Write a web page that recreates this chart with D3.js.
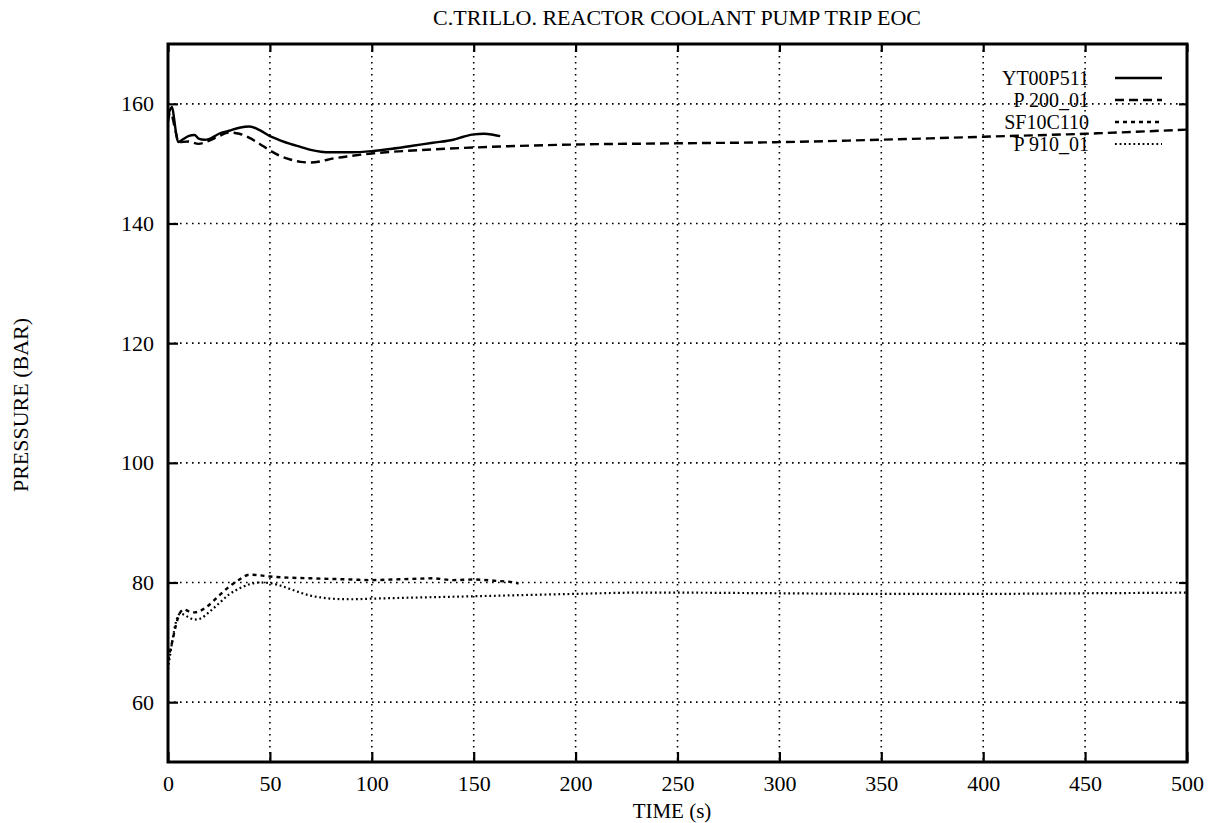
<!DOCTYPE html>
<html>
<head>
<meta charset="utf-8">
<script src="https://cdn.jsdelivr.net/npm/d3@7"></script>
<style>
  body { margin: 0; background: #fff; }
  svg text { font-family: "Liberation Serif", "DejaVu Serif", serif; fill: #000; }
</style>
</head>
<body>
<svg width="1218" height="823"></svg>
<script>
// time (s) and pressure (bar)
var ytTime = [0, 1, 2, 3, 4, 5, 7, 10, 13, 15, 18, 20, 25, 30, 35, 40, 45, 50, 55, 60, 65, 70, 75, 80, 90, 100, 110, 120, 130, 140, 145, 150, 155, 160, 163];
var ytVal  = [158, 159, 159.5, 157.5, 155, 153.6, 154, 154.6, 154.8, 154.2, 154, 154.1, 155, 155.5, 156, 156.2, 155.6, 154.6, 153.9, 153.3, 152.8, 152.3, 152, 151.9, 151.9, 152.1, 152.5, 153, 153.5, 154, 154.5, 154.9, 155, 154.8, 154.6];

var p200Time = [0, 1, 2, 3, 4, 5, 10, 15, 20, 25, 30, 35, 40, 45, 50, 55, 60, 65, 70, 75, 80, 90, 100, 120, 150, 200, 250, 300, 350, 400, 450, 500];
var p200Val  = [157, 158.5, 158, 156.5, 155, 153.6, 153.7, 153.3, 153.8, 154.6, 155.2, 155, 154.3, 153.3, 152.2, 151.3, 150.7, 150.3, 150.2, 150.4, 150.8, 151.3, 151.7, 152.2, 152.7, 153.2, 153.4, 153.6, 154, 154.5, 155, 155.7];

var sfTime = [0, 2, 4, 6, 8, 10, 13, 16, 20, 25, 30, 35, 40, 45, 50, 60, 70, 80, 90, 100, 110, 120, 130, 140, 150, 160, 170, 172];
var sfVal  = [67, 70, 73, 75, 75.5, 75.2, 75, 75.3, 76.2, 77.8, 79.3, 80.5, 81.3, 81.2, 81, 80.8, 80.7, 80.6, 80.5, 80.4, 80.5, 80.6, 80.7, 80.4, 80.5, 80.3, 80, 79.8];

var p910Time = [0, 2, 4, 6, 8, 10, 13, 16, 20, 25, 30, 35, 40, 45, 50, 55, 60, 65, 70, 75, 80, 90, 100, 150, 200, 230, 250, 300, 350, 400, 450, 500];
var p910Val  = [65.5, 70, 73.5, 74.8, 74.6, 74.2, 73.8, 74, 75, 76.5, 78, 79, 79.7, 80, 79.9, 79.5, 78.9, 78.3, 77.8, 77.5, 77.3, 77.2, 77.3, 77.7, 78.1, 78.3, 78.3, 78.2, 78.1, 78.1, 78.2, 78.3];

var legendNames = ["YT00P511", "P 200_01", "SF10C110", "P 910_01"];
var xTicks = [0, 50, 100, 150, 200, 250, 300, 350, 400, 450, 500];
var yTicks = [60, 80, 100, 120, 140, 160];

var svg = d3.select("svg");

var mLeft = 168, mRight = 1187, mTop = 44, mBottom = 762;

var x = d3.scaleLinear().domain([0, 500]).range([mLeft, mRight]);
var y = d3.scaleLinear().domain([50, 170]).range([mBottom, mTop]);

// grid
svg.append("g").selectAll("line")
    .data(xTicks.slice(1, -1))
    .enter().append("line")
    .attr("x1", d => x(d)).attr("x2", d => x(d))
    .attr("y1", mTop).attr("y2", mBottom)
    .attr("stroke", "#000")
    .attr("stroke-width", 1.6)
    .attr("stroke-dasharray", "1.6,4.4");

svg.append("g").selectAll("line")
    .data(yTicks)
    .enter().append("line")
    .attr("x1", mLeft).attr("x2", mRight)
    .attr("y1", d => y(d)).attr("y2", d => y(d))
    .attr("stroke", "#000")
    .attr("stroke-width", 1.6)
    .attr("stroke-dasharray", "1.6,4.4");

// axes with inward ticks
var xAxisB = d3.axisBottom(x).tickValues(xTicks).tickSize(-10).tickPadding(13).tickFormat(d3.format("d"));
var xAxisT = d3.axisTop(x).tickValues(xTicks).tickSize(-8).tickFormat("");
var yAxisL = d3.axisLeft(y).tickValues(yTicks).tickSize(-10).tickPadding(14).tickFormat(d3.format("d"));
var yAxisR = d3.axisRight(y).tickValues(yTicks).tickSize(-8).tickFormat("");

function style(g) {
    g.select(".domain").remove();
    g.selectAll(".tick line").attr("stroke", "#000").attr("stroke-width", 2.2);
    g.selectAll("text").attr("font-size", 22).attr("font-family", "Liberation Serif, serif");
}

svg.append("g").attr("transform", "translate(0," + mBottom + ")").call(xAxisB).call(style);
svg.append("g").attr("transform", "translate(0," + mTop + ")").call(xAxisT).call(style);
svg.append("g").attr("transform", "translate(" + mLeft + ",0)").call(yAxisL).call(style);
svg.append("g").attr("transform", "translate(" + mRight + ",0)").call(yAxisR).call(style);

svg.append("rect")
    .attr("x", mLeft).attr("y", mTop)
    .attr("width", mRight - mLeft).attr("height", mBottom - mTop)
    .attr("fill", "none")
    .attr("stroke", "#000")
    .attr("stroke-width", 3);

// series
var series = [
    { t: ytTime, v: ytVal, dash: null, w: 2.4 },
    { t: p200Time, v: p200Val, dash: "9,5", w: 2.4 },
    { t: sfTime, v: sfVal, dash: "4,4", w: 2.4 },
    { t: p910Time, v: p910Val, dash: "1.8,2.8", w: 2.2 }
];

var line = d3.line()
    .x(d => x(d[0]))
    .y(d => y(d[1]))
    .curve(d3.curveMonotoneX);

series.forEach(function(s) {
    svg.append("path")
        .datum(d3.zip(s.t, s.v))
        .attr("d", line)
        .attr("fill", "none")
        .attr("stroke", "#000")
        .attr("stroke-width", s.w)
        .attr("stroke-dasharray", s.dash);
});

// legend
var legend = svg.append("g");
legendNames.forEach(function(name, i) {
    var ly = 85 + i * 22;
    legend.append("text")
        .attr("x", 1089).attr("y", ly)
        .attr("text-anchor", "end")
        .attr("font-size", 20)
        .text(name);
    legend.append("line")
        .attr("x1", 1115).attr("x2", 1162)
        .attr("y1", ly - 7).attr("y2", ly - 7)
        .attr("stroke", "#000")
        .attr("stroke-width", series[i].w)
        .attr("stroke-dasharray", series[i].dash);
});

// titles
svg.append("text")
    .attr("x", 677).attr("y", 25)
    .attr("text-anchor", "middle")
    .attr("font-size", 22)
    .text("C.TRILLO. REACTOR COOLANT PUMP TRIP EOC");

svg.append("text")
    .attr("x", 672).attr("y", 818)
    .attr("text-anchor", "middle")
    .attr("font-size", 21)
    .text("TIME  (s)");

svg.append("text")
    .attr("transform", "translate(28,405) rotate(-90)")
    .attr("text-anchor", "middle")
    .attr("font-size", 22)
    .text("PRESSURE (BAR)");
</script>
</body>
</html>
